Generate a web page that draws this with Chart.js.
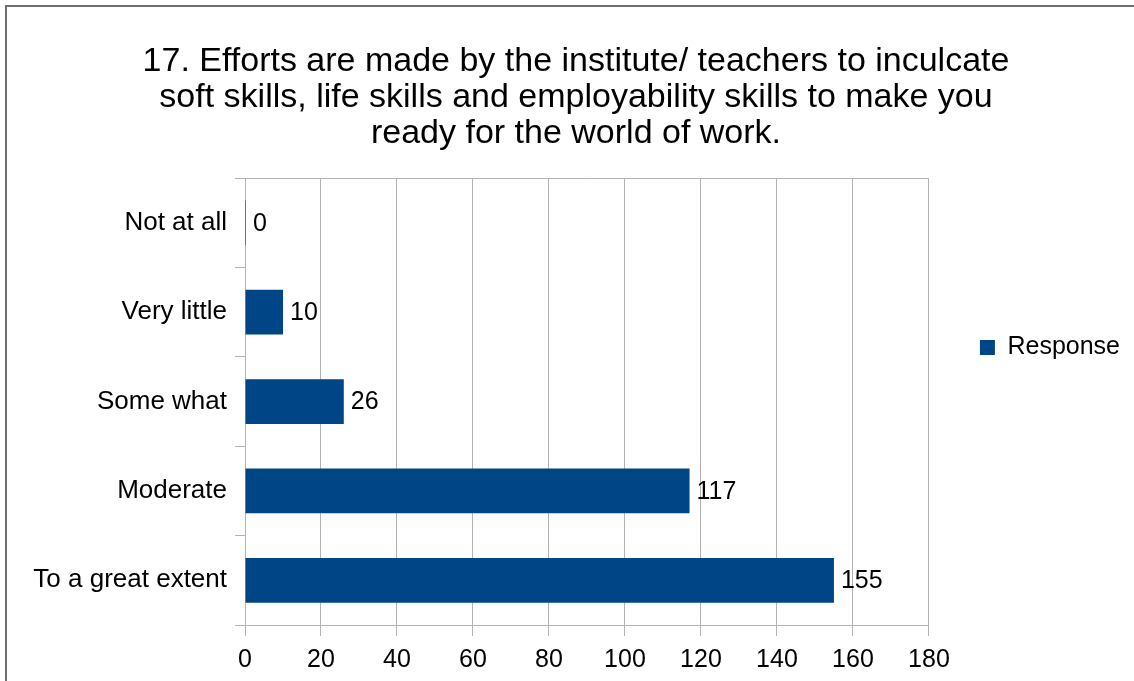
<!DOCTYPE html>
<html lang="en">
<head>
    <meta charset="UTF-8">
    <title>Efforts to inculcate skills</title>
    <script src="https://cdn.jsdelivr.net/npm/chart.js"></script>
    <style>
        body {
            margin: 0;
            padding: 0;
            background: #fff;
            overflow: hidden;
            width: 1134px;
            height: 681px;
            position: relative;
        }

        .frame {
            position: absolute;
            left: 5px;
            top: 5px;
            width: 2000px;
            height: 2000px;
            border-top: 2px solid #6e6e6e;
            border-left: 2px solid #6e6e6e;
        }

        #chartCanvas {
            position: absolute;
            left: 7px;
            top: 7px;
        }
    </style>
</head>
<body>
    <div class="frame"></div>
    <canvas id="chartCanvas" width="1123" height="677"></canvas>

    <script>
        const titleLines = [
            '17. Efforts are made by the institute/ teachers to inculcate',
            'soft skills, life skills and employability skills to make you',
            'ready for the world of work.'
        ];
        const categories = ['Not at all', 'Very little', 'Some what', 'Moderate', 'To a great extent'];
        const responses = [0, 10, 26, 117, 155];
        const seriesName = 'Response';
        const xMin = 0;
        const xMax = 180;
        const xStep = 20;

        const FONT = "'Liberation Sans', Arial, sans-serif";
        const GRID = '#b3b3b3';

        Chart.defaults.color = '#000';
        Chart.defaults.font.family = FONT;

        // value labels next to each bar
        const valueLabels = {
            id: 'valueLabels',
            afterDatasetsDraw(chart) {
                const ctx = chart.ctx;
                const meta = chart.getDatasetMeta(0);
                ctx.save();
                ctx.font = '25px ' + FONT;
                ctx.fillStyle = '#000';
                ctx.textAlign = 'left';
                ctx.textBaseline = 'middle';
                meta.data.forEach((bar, i) => {
                    ctx.fillText(String(responses[i]), bar.x + 7, bar.y + 1);
                });
                ctx.restore();
            }
        };

        const ctx = document.getElementById('chartCanvas').getContext('2d');
        const chart = new Chart(ctx, {
            type: 'bar',
            data: {
                labels: categories,
                datasets: [{
                    label: seriesName,
                    data: responses,
                    backgroundColor: '#004586',
                    borderWidth: 0,
                    barPercentage: 0.5,
                    categoryPercentage: 1,
                    minBarLength: 1
                }]
            },
            options: {
                indexAxis: 'y',
                responsive: false,
                animation: false,
                devicePixelRatio: 1,
                layout: {
                    padding: { left: 15, top: 4, right: 0, bottom: 0 }
                },
                plugins: {
                    title: {
                        display: true,
                        text: titleLines,
                        color: '#000',
                        font: { family: FONT, size: 34, weight: 'normal', lineHeight: 1.07 },
                        padding: { top: 32, bottom: 26 }
                    },
                    legend: {
                        position: 'right',
                        labels: {
                            boxWidth: 15,
                            boxHeight: 15,
                            padding: 51,
                            color: '#000',
                            font: { family: FONT, size: 25 }
                        }
                    },
                    tooltip: { enabled: false }
                },
                scales: {
                    x: {
                        min: xMin,
                        max: xMax,
                        ticks: {
                            stepSize: xStep,
                            padding: 9,
                            font: { family: FONT, size: 25 }
                        },
                        grid: {
                            color: GRID,
                            tickColor: GRID,
                            tickLength: 11,
                            lineWidth: 1
                        },
                        border: { color: GRID }
                    },
                    y: {
                        ticks: {
                            padding: 8,
                            font: { family: FONT, size: 26 }
                        },
                        grid: {
                            color: c => (c.index === 0 || c.index === categories.length) ? GRID : 'rgba(0,0,0,0)',
                            tickColor: GRID,
                            tickLength: 10
                        },
                        border: { color: GRID },
                        afterFit(scale) {
                            scale.width = 223;
                        }
                    }
                }
            },
            plugins: [valueLabels]
        });
    </script>
</body>
</html>
